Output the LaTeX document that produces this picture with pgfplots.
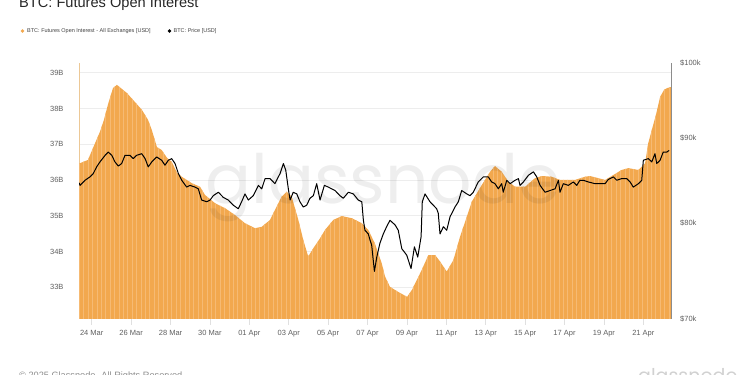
\documentclass[border=0pt]{standalone}
\usepackage{pgfplots}
\pgfplotsset{compat=1.18}
\usepackage{pgfplotstable}
\usepackage{fontspec}
\setmainfont{Liberation Sans}
\newfontfamily\wmfont{Poppins}
\usetikzlibrary{patterns.meta}
\definecolor{oi}{RGB}{242,168,78}
\definecolor{oilight}{RGB}{246,186,115}
\definecolor{oiaxis}{RGB}{236,200,150}
\definecolor{lbl}{RGB}{95,95,95}

\pgfplotstableread{
d v
-0.645 36.45
-0.59 36.47
-0.19 36.56
0.17 37.03
0.42 37.35
0.62 37.68
0.83 38.12
1.08 38.57
1.28 38.66
1.79 38.43
2.55 37.96
2.86 37.68
3.05 37.40
3.31 36.92
3.55 36.84
3.82 36.62
4.06 36.51
4.33 36.20
4.57 36.09
5.08 35.91
5.50 35.81
5.75 35.58
6.26 35.35
6.77 35.21
7.27 35.02
7.78 34.79
8.29 34.65
8.63 34.69
9.05 34.88
9.30 35.16
9.64 35.53
9.90 35.67
10.15 35.53
10.49 34.88
10.74 34.32
10.99 33.86
11.25 34.09
11.59 34.37
11.84 34.60
12.26 34.88
12.69 34.99
13.20 34.93
13.71 34.79
14.04 34.60
14.37 34.23
14.72 33.67
14.89 33.30
15.14 33.01
15.55 32.87
16.01 32.73
16.26 32.93
16.75 33.48
17.09 33.90
17.43 33.90
17.68 33.72
18.02 33.44
18.36 33.76
18.70 34.42
19.04 34.97
19.29 35.39
19.80 35.86
20.22 36.23
20.47 36.39
20.81 36.23
21.15 35.95
21.49 35.81
22.00 35.81
22.50 36.05
22.84 36.11
23.35 36.09
23.77 36.00
24.53 36.00
25.04 36.09
25.29 36.11
25.72 36.05
26.06 36.00
26.48 36.14
26.90 36.28
27.24 36.33
27.75 36.28
28.09 36.47
28.25 37.03
28.43 37.40
28.64 37.82
28.85 38.32
29.05 38.52
29.21 38.57
29.40 38.60
}\oitable

\pgfplotstableread{
d p
-0.64 84.6
-0.59 84.3
-0.34 84.9
-0.09 85.3
0.08 85.7
0.25 86.5
0.42 87.1
0.68 87.9
0.84 88.3
1.02 87.9
1.18 87.1
1.35 86.6
1.52 86.9
1.69 87.9
1.94 87.9
2.11 87.5
2.28 87.9
2.54 88.1
2.71 87.5
2.87 86.5
3.05 87.1
3.30 87.7
3.55 87.3
3.72 86.7
3.89 87.3
4.06 87.5
4.23 86.9
4.40 85.7
4.57 84.9
4.82 84.1
4.99 84.3
5.24 84.1
5.41 83.9
5.58 82.6
5.84 82.4
6.01 82.6
6.17 83.1
6.43 83.5
6.68 82.9
6.93 82.6
7.19 82.0
7.44 81.6
7.61 82.4
7.78 83.3
7.95 82.6
8.20 83.1
8.46 84.3
8.63 83.9
8.80 85.1
9.05 85.1
9.30 84.5
9.56 85.7
9.73 86.9
9.85 86.1
9.98 83.9
10.07 82.6
10.23 83.5
10.41 83.3
10.57 82.4
10.74 81.8
10.91 82.0
11.08 82.8
11.25 83.1
11.42 84.5
11.59 82.6
11.81 84.3
12.01 84.1
12.35 83.7
12.60 83.1
12.77 82.8
13.03 83.5
13.28 83.3
13.53 82.6
13.71 82.4
13.79 80.3
13.87 79.2
14.04 78.8
14.13 78.1
14.21 77.6
14.35 74.8
14.47 76.3
14.63 77.8
14.80 78.8
14.97 79.6
15.14 80.3
15.40 79.8
15.56 79.2
15.74 77.2
15.99 76.5
16.21 75.1
16.38 77.4
16.55 76.3
16.72 78.5
16.78 82.4
16.92 83.3
17.17 82.4
17.34 82.0
17.51 81.6
17.59 81.1
17.68 78.8
17.85 79.6
18.02 79.2
18.19 80.7
18.44 81.8
18.61 82.4
18.78 83.7
19.04 83.3
19.20 83.1
19.37 83.5
19.62 84.7
19.88 85.3
20.13 85.3
20.30 84.7
20.47 84.5
20.64 83.9
20.81 84.5
20.89 83.5
21.07 84.9
21.24 84.5
21.49 84.9
21.66 85.1
21.74 84.3
21.91 84.7
22.17 85.5
22.42 85.9
22.59 85.3
22.76 84.3
23.01 83.5
23.27 83.7
23.52 83.9
23.69 84.9
23.77 83.5
23.94 84.5
24.19 84.3
24.45 84.7
24.62 84.3
24.78 84.9
24.95 84.9
25.21 84.7
25.55 84.5
25.89 84.5
26.06 84.5
26.22 85.0
26.48 85.3
26.65 84.9
26.90 85.1
27.16 85.1
27.33 84.7
27.49 84.1
27.75 84.5
27.92 84.9
28.00 87.3
28.25 87.5
28.43 87.1
28.59 88.1
28.68 86.9
28.85 87.3
29.01 88.3
29.19 88.3
29.31 88.5
}\pricetable

\begin{document}
\begin{tikzpicture}
\useasboundingbox (0pt,0pt) rectangle (750pt,375pt);
% title and legend
\node[anchor=base west, font=\fontsize{14.6}{16}\selectfont, text=black!85, inner sep=0pt] at (19pt,367.7pt) {BTC: Futures Open Interest};
\fill[oi] (22.5pt,344pt) circle (1.8pt);
\node[anchor=west, font=\fontsize{5.5}{6}\selectfont, text=black!75, inner sep=0pt] at (27pt,344pt) {BTC: Futures Open Interest - All Exchanges [USD]};
\fill[black] (169.5pt,344pt) circle (1.8pt);
\node[anchor=west, font=\fontsize{5.5}{6}\selectfont, text=black!75, inner sep=0pt] at (173.5pt,344pt) {BTC: Price [USD]};

\begin{axis}[
  at={(79pt,56pt)}, anchor=south west, scale only axis,
  width=592.7pt, height=256.3pt,
  xmin=-0.645, xmax=29.44, ymin=32.11, ymax=39.28,
  axis x line*=bottom, axis y line*=left,
  x axis line style={draw=none},
  y axis line style={draw=oiaxis, line width=0.8pt},
  xtick={0,2,...,28},
  xticklabels={24 Mar,26 Mar,28 Mar,30 Mar,01 Apr,03 Apr,05 Apr,07 Apr,09 Apr,11 Apr,13 Apr,15 Apr,17 Apr,19 Apr,21 Apr},
  ytick={33,34,35,36,37,38,39},
  yticklabels={33B,34B,35B,36B,37B,38B,39B},
  tick label style={font=\fontsize{7.5}{8}\selectfont, text=lbl},
  xticklabel style={yshift=-2pt},
  yticklabel style={xshift=-6pt},
  xtick style={draw=black!12, line width=0.5pt},
  ytick style={draw=none},
  tick align=outside, major tick length=6pt,
  ymajorgrids, major grid style={draw=black!7, line width=0.5pt},
]
\addplot[draw=none, fill=oi] table[x=d,y=v]{\oitable} \closedcycle;
\addplot[draw=none, pattern={Lines[angle=90,distance=4.4pt,line width=0.5pt]}, pattern color=oilight] table[x=d,y=v]{\oitable} \closedcycle;
\end{axis}

% watermark
\node[anchor=base, font=\wmfont\fontsize{68}{76}\selectfont, text=black, opacity=0.065, inner sep=0pt] at (383pt,171pt) {glassnode};

\begin{axis}[
  at={(79pt,56pt)}, anchor=south west, scale only axis,
  width=592.7pt, height=256.3pt,
  xmin=-0.645, xmax=29.44, ymode=log, ymin=70, ymax=100,
  axis x line=none, axis y line*=right,
  y axis line style={draw=black!45, line width=0.8pt},
  ytick={70,80,90,100},
  yticklabels={\$70k,\$80k,\$90k,\$100k},
  tick label style={font=\fontsize{7.5}{8}\selectfont, text=lbl},
  yticklabel style={xshift=5pt},
  ytick style={draw=none}, minor tick length=0pt,
]
\addplot[black, line width=1pt, line join=round] table[x=d,y=p]{\pricetable};
\end{axis}

% footer
\node[anchor=base west, font=\fontsize{9.2}{10}\selectfont, text=black!45, inner sep=0pt] at (19pt,-3pt) {\textcopyright{} 2025 Glassnode. All Rights Reserved.};
\node[anchor=base west, font=\wmfont\fontsize{19}{20}\selectfont, text=black!18, inner sep=0pt] at (638pt,-7pt) {glassnode};
\end{tikzpicture}
\end{document}
